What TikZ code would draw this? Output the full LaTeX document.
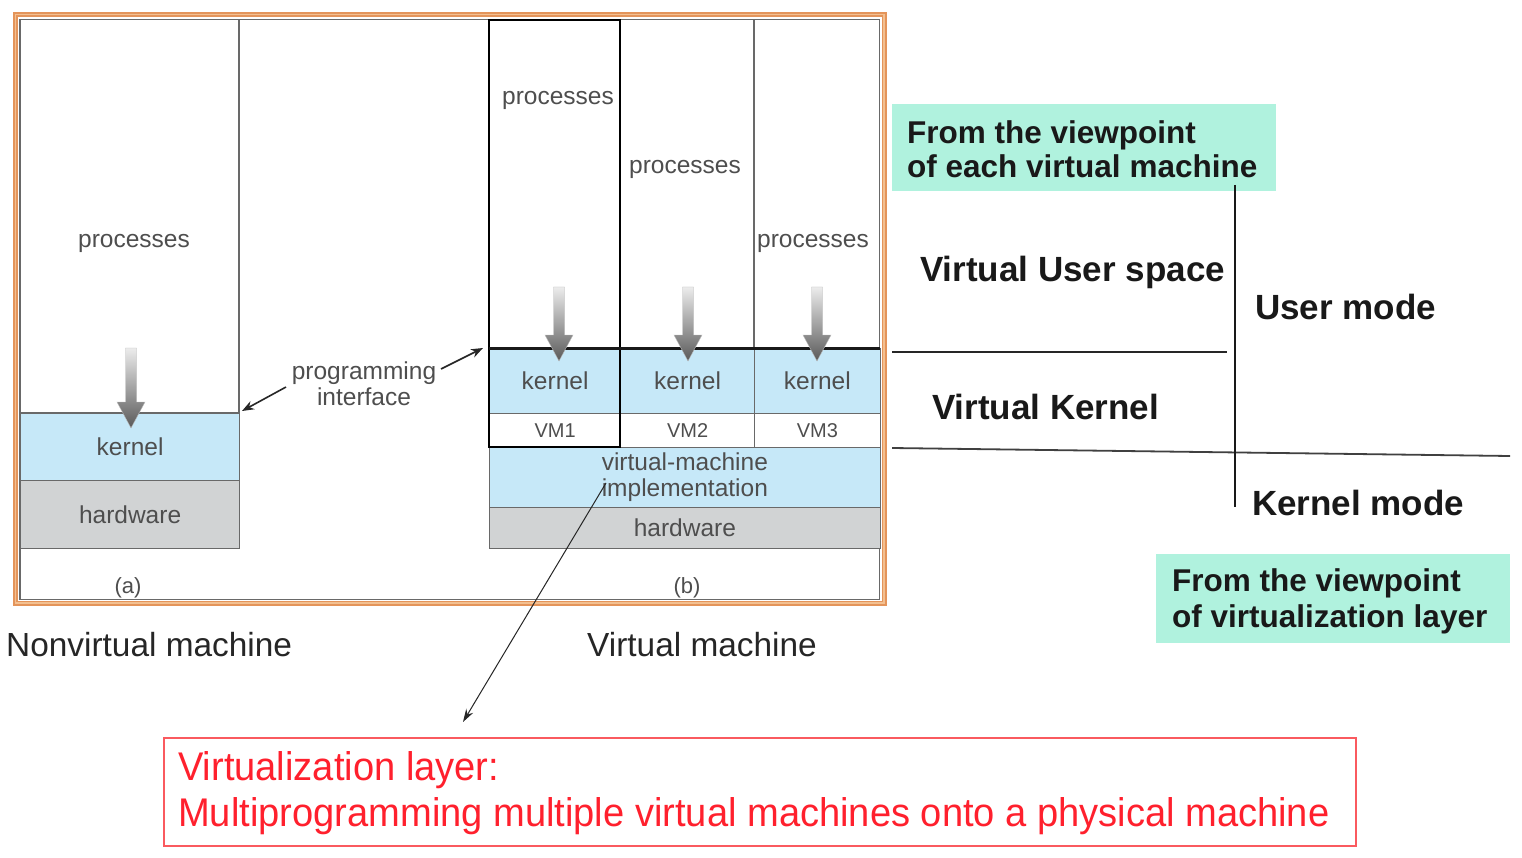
\documentclass[tikz,border=0pt]{standalone}
\usepackage{fontspec}
\setmainfont{Liberation Sans}
\usetikzlibrary{arrows.meta}
\definecolor{kblue}{RGB}{198,232,248}
\definecolor{hgray}{RGB}{209,211,212}
\definecolor{txtgray}{RGB}{78,78,78}
\definecolor{edgegray}{RGB}{105,105,105}
\definecolor{tealbg}{RGB}{176,242,222}
\definecolor{frameorange}{RGB}{228,148,90}
\definecolor{framelight}{RGB}{243,192,145}
\definecolor{redtxt}{RGB}{255,32,45}
\definecolor{redline}{RGB}{250,90,95}
\tikzset{
  dtext/.style={text=txtgray, font=\fontsize{24.5}{26}\selectfont, inner sep=0pt, align=center},
  vmtext/.style={text=txtgray, font=\fontsize{22}{24}\selectfont, inner sep=0pt},
  layerbox/.style={draw=edgegray, line width=1.2pt, anchor=north west, inner sep=0pt,
     text=txtgray, font=\fontsize{24.5}{26}\selectfont, align=center},
  biglabel/.style={font=\fontsize{33.4}{36}\selectfont, text=black!85, inner sep=0pt},
  boldlabel/.style={font=\bfseries\fontsize{35}{38}\selectfont, text=black!90, inner sep=0pt},
  tealbox/.style={fill=tealbg, anchor=north west, inner sep=0pt},
  tealtext/.style={font=\bfseries\fontsize{31.5}{34}\selectfont, text=black!90, inner sep=0pt, align=left, anchor=west},
  redtext/.style={font=\fontsize{40}{42}\selectfont, text=redtxt, inner sep=0pt, anchor=west},
  parrow/.style={line width=1.6pt, black!85, -{Stealth[length=12pt,width=9pt]}},
  pics/blockarrow/.style={code={
    \shade[top color=gray!15, bottom color=black!65, draw=gray!55, line width=0.4pt]
      (-5.5,0) -- (5.5,0) -- (5.5,#1-26) -- (14,#1-26) -- (0,#1) -- (-14,#1-26) -- (-5.5,#1-26) -- cycle;
  }}
}
\begin{document}
\begin{tikzpicture}[x=1pt,y=-1pt]
\useasboundingbox[fill=white] (0,0) rectangle (1522,858);

% ---------- frame ----------
\draw[frameorange, line width=5pt] (15.5,14.5) rectangle (884,603);
\draw[framelight, line width=1.3pt] (15.5,14.5) rectangle (884,603);
\draw[edgegray, line width=1.5pt] (20,19.5) rectangle (879.5,599.5);

% ---------- (a) nonvirtual ----------
\draw[edgegray, line width=1.2pt] (20,19.5) rectangle (239,413);
\node[dtext] (pa) at (134,243) {processes};
\node[layerbox, fill=kblue, minimum width=219pt, minimum height=67pt] (ka) at (20,413) {kernel};
\node[layerbox, fill=hgray, minimum width=219pt, minimum height=68pt] (ha) at (20,480) {hardware};
\pic at (131,348) {blockarrow=80};
\node[vmtext] (la) at (128,588) {(a)};

% ---------- programming interface ----------
\node[dtext] (pi) at (364,384) {programming\\interface};
\coordinate (piLs) at (286,387);
\coordinate (piLe) at (242,411);
\coordinate (piRs) at (441,369);
\coordinate (piRe) at (483,348);
\draw[parrow] (piLs) -- (piLe);
\draw[parrow] (piRs) -- (piRe);

% ---------- (b) virtual ----------
\draw[edgegray, line width=1.2pt] (620,19.5) rectangle (754,348);
\draw[edgegray, line width=1.2pt] (754,19.5) rectangle (879.5,348);
\node[layerbox, fill=kblue, minimum width=131pt, minimum height=65pt] (k1) at (489,348) {kernel};
\node[layerbox, fill=kblue, minimum width=134pt, minimum height=65pt] (k2) at (620,348) {kernel};
\node[layerbox, fill=kblue, minimum width=125.5pt, minimum height=65pt] (k3) at (754,348) {kernel};
\node[layerbox, fill=white, minimum width=131pt, minimum height=34pt, font=\fontsize{20}{22}\selectfont] (v1) at (489,413) {VM1};
\node[layerbox, fill=white, minimum width=134pt, minimum height=34pt, font=\fontsize{20}{22}\selectfont] (v2) at (620,413) {VM2};
\node[layerbox, fill=white, minimum width=125.5pt, minimum height=34pt, font=\fontsize{20}{22}\selectfont] (v3) at (754,413) {VM3};
\node[layerbox, fill=kblue, minimum width=390.5pt, minimum height=60pt] (vmi) at (489,447) {virtual-machine\\implementation};
\node[layerbox, fill=hgray, minimum width=390.5pt, minimum height=41pt] (hb) at (489,507) {hardware};
\draw[black, line width=2.2pt] (489,20) rectangle (620,447);
\draw[black!90, line width=3pt] (489,348) -- (880,348);
\node[dtext] (p1) at (558,100) {processes};
\node[dtext] (p2) at (685,169) {processes};
\node[dtext] (p3) at (813,243) {processes};
\pic at (559,287) {blockarrow=74};
\pic at (688,287) {blockarrow=74};
\pic at (817,287) {blockarrow=74};
\node[vmtext] (lb) at (687,588) {(b)};

% ---------- captions ----------
\node[biglabel, anchor=west] (nvm) at (6,645) {Nonvirtual machine};
\node[biglabel] (vm) at (702,645) {Virtual machine};

% ---------- virtualization layer box ----------
\node[draw=redline, line width=1.6pt, anchor=north west, minimum width=1192pt, minimum height=108pt, inner sep=0pt] (vl) at (163,737) {};
\node[redtext] (vl1) at (178,770) {\scalebox{0.952}[1]{Virtualization layer:}};
\node[redtext] (vl2) at (178,816) {\scalebox{0.952}[1]{Multiprogramming multiple virtual machines onto a physical machine}};
\coordinate (vmiS) at (606,483);
\coordinate (vlT) at (463,722);
\draw[line width=1pt, black!85, -{Stealth[length=13pt,width=8pt]}] (vmiS) -- (vlT);

% ---------- right side ----------
\node[tealbox, minimum width=384pt, minimum height=87pt] (t1) at (892,104) {};
\node[tealtext] (t1txt) at (907,149) {From the viewpoint\\of each virtual machine};
\node[tealbox, minimum width=354pt, minimum height=89pt] (t2) at (1156,554) {};
\node[tealtext, font=\bfseries\fontsize{31.5}{36}\selectfont] (t2txt) at (1172,601) {From the viewpoint\\of virtualization layer};

\node[boldlabel, anchor=west] (vus) at (920,272) {Virtual User space};
\node[boldlabel, anchor=west] (um) at (1255,307) {User mode};
\node[boldlabel, anchor=west] (vk) at (932,407) {Virtual Kernel};
\node[boldlabel, anchor=west] (km) at (1252,503) {Kernel mode};

\coordinate (h1a) at (892,352);
\coordinate (h1b) at (1227,352);
\coordinate (h2a) at (892,448);
\coordinate (h2b) at (1510,456);
\coordinate (vta) at (1235,185);
\coordinate (vtb) at (1235,507);
\draw[black!85, line width=1.5pt] (h1a) -- (h1b);
\draw[black!75, line width=1.8pt] (h2a) -- (h2b);
\draw[black!90, line width=1.3pt] (vta) -- (vtb);
\end{tikzpicture}
\end{document}
